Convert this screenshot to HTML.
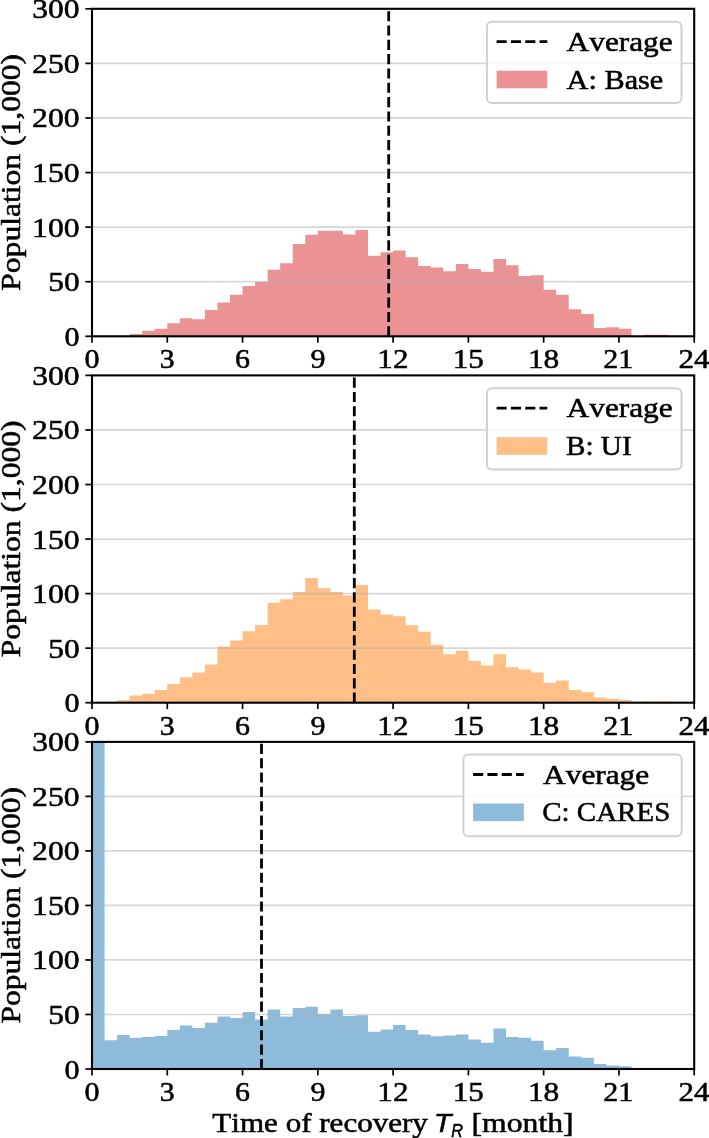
<!DOCTYPE html>
<html><head><meta charset="utf-8"><style>
html,body{margin:0;padding:0;background:#fff;}
svg{display:block;}
text{font-kerning:none;font-variant-ligatures:none;fill:#000;stroke:#000;stroke-width:0.55px;}
</style></head><body>
<svg width="709" height="1138" viewBox="0 0 709 1138">
<rect width="709" height="1138" fill="#fff"/>
<path d="M92.00,336.30 L92.00,336.30 L104.55,336.30 L104.55,336.30 L117.09,336.30 L117.09,336.30 L129.64,336.30 L129.64,334.12 L142.18,334.12 L142.18,330.84 L154.73,330.84 L154.73,328.66 L167.28,328.66 L167.28,323.20 L179.82,323.20 L179.82,318.29 L192.37,318.29 L192.37,319.16 L204.91,319.16 L204.91,310.10 L217.46,310.10 L217.46,302.46 L230.00,302.46 L230.00,294.82 L242.55,294.82 L242.55,286.08 L255.10,286.08 L255.10,281.72 L267.64,281.72 L267.64,269.71 L280.19,269.71 L280.19,263.16 L292.73,263.16 L292.73,243.95 L305.28,243.95 L305.28,234.78 L317.83,234.78 L317.83,230.85 L330.37,230.85 L330.37,230.85 L342.92,230.85 L342.92,234.56 L355.46,234.56 L355.46,229.97 L368.01,229.97 L368.01,255.74 L380.55,255.74 L380.55,252.24 L393.10,252.24 L393.10,250.50 L405.65,250.50 L405.65,257.37 L418.19,257.37 L418.19,265.89 L430.74,265.89 L430.74,267.42 L443.28,267.42 L443.28,271.24 L455.83,271.24 L455.83,264.03 L468.38,264.03 L468.38,268.94 L480.92,268.94 L480.92,271.78 L493.47,271.78 L493.47,258.90 L506.01,258.90 L506.01,265.34 L518.56,265.34 L518.56,275.93 L531.10,275.93 L531.10,275.28 L543.65,275.28 L543.65,289.80 L556.20,289.80 L556.20,294.71 L568.74,294.71 L568.74,309.34 L581.29,309.34 L581.29,314.03 L593.83,314.03 L593.83,327.89 L606.38,327.89 L606.38,327.13 L618.93,327.13 L618.93,328.66 L631.47,328.66 L631.47,335.97 L644.02,335.97 L644.02,334.66 L656.56,334.66 L656.56,334.66 L669.11,334.66 L669.11,336.30 L681.65,336.30 L681.65,336.30 L694.20,336.30 L694.20,336.30 Z" fill="rgb(235,147,148)"/>
<line x1="92.0" x2="694.2" y1="281.72" y2="281.72" stroke="#b0b0b0" stroke-opacity="0.5" stroke-width="1.7"/>
<line x1="92.0" x2="694.2" y1="227.13" y2="227.13" stroke="#b0b0b0" stroke-opacity="0.5" stroke-width="1.7"/>
<line x1="92.0" x2="694.2" y1="172.55" y2="172.55" stroke="#b0b0b0" stroke-opacity="0.5" stroke-width="1.7"/>
<line x1="92.0" x2="694.2" y1="117.97" y2="117.97" stroke="#b0b0b0" stroke-opacity="0.5" stroke-width="1.7"/>
<line x1="92.0" x2="694.2" y1="63.38" y2="63.38" stroke="#b0b0b0" stroke-opacity="0.5" stroke-width="1.7"/>
<line x1="388.7" x2="388.7" y1="336.3" y2="8.8" stroke="#000" stroke-width="2.8" stroke-dasharray="10.1 4.22"/>
<rect x="92.0" y="8.8" width="602.20" height="327.50" fill="none" stroke="#000" stroke-width="2.1"/>
<line x1="85.3" x2="92.0" y1="336.30" y2="336.30" stroke="#000" stroke-width="1.7"/>
<line x1="85.3" x2="92.0" y1="281.72" y2="281.72" stroke="#000" stroke-width="1.7"/>
<line x1="85.3" x2="92.0" y1="227.13" y2="227.13" stroke="#000" stroke-width="1.7"/>
<line x1="85.3" x2="92.0" y1="172.55" y2="172.55" stroke="#000" stroke-width="1.7"/>
<line x1="85.3" x2="92.0" y1="117.97" y2="117.97" stroke="#000" stroke-width="1.7"/>
<line x1="85.3" x2="92.0" y1="63.38" y2="63.38" stroke="#000" stroke-width="1.7"/>
<line x1="85.3" x2="92.0" y1="8.80" y2="8.80" stroke="#000" stroke-width="1.7"/>
<line x1="92.00" x2="92.00" y1="336.3" y2="342.70" stroke="#000" stroke-width="1.7"/>
<line x1="167.28" x2="167.28" y1="336.3" y2="342.70" stroke="#000" stroke-width="1.7"/>
<line x1="242.55" x2="242.55" y1="336.3" y2="342.70" stroke="#000" stroke-width="1.7"/>
<line x1="317.83" x2="317.83" y1="336.3" y2="342.70" stroke="#000" stroke-width="1.7"/>
<line x1="393.10" x2="393.10" y1="336.3" y2="342.70" stroke="#000" stroke-width="1.7"/>
<line x1="468.38" x2="468.38" y1="336.3" y2="342.70" stroke="#000" stroke-width="1.7"/>
<line x1="543.65" x2="543.65" y1="336.3" y2="342.70" stroke="#000" stroke-width="1.7"/>
<line x1="618.93" x2="618.93" y1="336.3" y2="342.70" stroke="#000" stroke-width="1.7"/>
<line x1="694.20" x2="694.20" y1="336.3" y2="342.70" stroke="#000" stroke-width="1.7"/>
<rect x="486.9" y="21.7" width="194.60" height="81.30" rx="5" ry="5" fill="#fff" fill-opacity="0.8" stroke="#d0d0d0" stroke-width="2"/>
<line x1="496.60" x2="547.30" y1="41.70" y2="41.70" stroke="#000" stroke-width="2.8" stroke-dasharray="10.1 4.22"/>
<rect x="496.60" y="70.70" width="50.7" height="17.6" fill="rgb(235,147,148)"/>
<path d="M92.00,702.70 L92.00,702.70 L104.55,702.70 L104.55,702.70 L117.09,702.70 L117.09,700.19 L129.64,700.19 L129.64,695.61 L142.18,695.61 L142.18,693.86 L154.73,693.86 L154.73,690.04 L167.28,690.04 L167.28,683.93 L179.82,683.93 L179.82,677.17 L192.37,677.17 L192.37,672.48 L204.91,672.48 L204.91,664.51 L217.46,664.51 L217.46,646.62 L230.00,646.62 L230.00,640.51 L242.55,640.51 L242.55,631.24 L255.10,631.24 L255.10,624.91 L267.64,624.91 L267.64,602.87 L280.19,602.87 L280.19,599.27 L292.73,599.27 L292.73,592.07 L305.28,592.07 L305.28,577.89 L317.83,577.89 L317.83,588.25 L330.37,588.25 L330.37,592.07 L342.92,592.07 L342.92,595.45 L355.46,595.45 L355.46,585.09 L368.01,585.09 L368.01,609.42 L380.55,609.42 L380.55,614.55 L393.10,614.55 L393.10,616.18 L405.65,616.18 L405.65,625.13 L418.19,625.13 L418.19,631.79 L430.74,631.79 L430.74,644.77 L443.28,644.77 L443.28,654.37 L455.83,654.37 L455.83,650.77 L468.38,650.77 L468.38,660.70 L480.92,660.70 L480.92,665.39 L493.47,665.39 L493.47,654.37 L506.01,654.37 L506.01,667.24 L518.56,667.24 L518.56,669.53 L531.10,669.53 L531.10,672.59 L543.65,672.59 L543.65,682.84 L556.20,682.84 L556.20,680.55 L568.74,680.55 L568.74,689.94 L581.29,689.94 L581.29,692.23 L593.83,692.23 L593.83,697.46 L606.38,697.46 L606.38,698.77 L618.93,698.77 L618.93,699.65 L631.47,699.65 L631.47,702.70 L644.02,702.70 L644.02,701.61 L656.56,701.61 L656.56,701.61 L669.11,701.61 L669.11,702.70 L681.65,702.70 L681.65,702.70 L694.20,702.70 L694.20,702.70 Z" fill="rgb(255,191,135)"/>
<line x1="92.0" x2="694.2" y1="648.15" y2="648.15" stroke="#b0b0b0" stroke-opacity="0.5" stroke-width="1.7"/>
<line x1="92.0" x2="694.2" y1="593.60" y2="593.60" stroke="#b0b0b0" stroke-opacity="0.5" stroke-width="1.7"/>
<line x1="92.0" x2="694.2" y1="539.05" y2="539.05" stroke="#b0b0b0" stroke-opacity="0.5" stroke-width="1.7"/>
<line x1="92.0" x2="694.2" y1="484.50" y2="484.50" stroke="#b0b0b0" stroke-opacity="0.5" stroke-width="1.7"/>
<line x1="92.0" x2="694.2" y1="429.95" y2="429.95" stroke="#b0b0b0" stroke-opacity="0.5" stroke-width="1.7"/>
<line x1="354.3" x2="354.3" y1="702.7" y2="375.4" stroke="#000" stroke-width="2.8" stroke-dasharray="10.1 4.22"/>
<rect x="92.0" y="375.4" width="602.20" height="327.30" fill="none" stroke="#000" stroke-width="2.1"/>
<line x1="85.3" x2="92.0" y1="702.70" y2="702.70" stroke="#000" stroke-width="1.7"/>
<line x1="85.3" x2="92.0" y1="648.15" y2="648.15" stroke="#000" stroke-width="1.7"/>
<line x1="85.3" x2="92.0" y1="593.60" y2="593.60" stroke="#000" stroke-width="1.7"/>
<line x1="85.3" x2="92.0" y1="539.05" y2="539.05" stroke="#000" stroke-width="1.7"/>
<line x1="85.3" x2="92.0" y1="484.50" y2="484.50" stroke="#000" stroke-width="1.7"/>
<line x1="85.3" x2="92.0" y1="429.95" y2="429.95" stroke="#000" stroke-width="1.7"/>
<line x1="85.3" x2="92.0" y1="375.40" y2="375.40" stroke="#000" stroke-width="1.7"/>
<line x1="92.00" x2="92.00" y1="702.7" y2="709.10" stroke="#000" stroke-width="1.7"/>
<line x1="167.28" x2="167.28" y1="702.7" y2="709.10" stroke="#000" stroke-width="1.7"/>
<line x1="242.55" x2="242.55" y1="702.7" y2="709.10" stroke="#000" stroke-width="1.7"/>
<line x1="317.83" x2="317.83" y1="702.7" y2="709.10" stroke="#000" stroke-width="1.7"/>
<line x1="393.10" x2="393.10" y1="702.7" y2="709.10" stroke="#000" stroke-width="1.7"/>
<line x1="468.38" x2="468.38" y1="702.7" y2="709.10" stroke="#000" stroke-width="1.7"/>
<line x1="543.65" x2="543.65" y1="702.7" y2="709.10" stroke="#000" stroke-width="1.7"/>
<line x1="618.93" x2="618.93" y1="702.7" y2="709.10" stroke="#000" stroke-width="1.7"/>
<line x1="694.20" x2="694.20" y1="702.7" y2="709.10" stroke="#000" stroke-width="1.7"/>
<rect x="486.9" y="388.2" width="194.60" height="81.30" rx="5" ry="5" fill="#fff" fill-opacity="0.8" stroke="#d0d0d0" stroke-width="2"/>
<line x1="496.60" x2="547.30" y1="408.20" y2="408.20" stroke="#000" stroke-width="2.8" stroke-dasharray="10.1 4.22"/>
<rect x="496.60" y="437.20" width="50.7" height="17.6" fill="rgb(255,191,135)"/>
<path d="M92.00,1069.00 L92.00,741.35 L104.55,741.35 L104.55,1040.22 L117.09,1040.22 L117.09,1035.09 L129.64,1035.09 L129.64,1037.71 L142.18,1037.71 L142.18,1037.05 L154.73,1037.05 L154.73,1035.96 L167.28,1035.96 L167.28,1029.97 L179.82,1029.97 L179.82,1025.60 L192.37,1025.60 L192.37,1027.89 L204.91,1027.89 L204.91,1022.77 L217.46,1022.77 L217.46,1016.45 L230.00,1016.45 L230.00,1017.97 L242.55,1017.97 L242.55,1012.08 L255.10,1012.08 L255.10,1019.50 L267.64,1019.50 L267.64,1009.47 L280.19,1009.47 L280.19,1016.45 L292.73,1016.45 L292.73,1007.94 L305.28,1007.94 L305.28,1006.63 L317.83,1006.63 L317.83,1013.94 L330.37,1013.94 L330.37,1009.47 L342.92,1009.47 L342.92,1016.12 L355.46,1016.12 L355.46,1015.14 L368.01,1015.14 L368.01,1031.71 L380.55,1031.71 L380.55,1029.53 L393.10,1029.53 L393.10,1024.95 L405.65,1024.95 L405.65,1029.97 L418.19,1029.97 L418.19,1034.44 L430.74,1034.44 L430.74,1036.18 L443.28,1036.18 L443.28,1035.53 L455.83,1035.53 L455.83,1034.44 L468.38,1034.44 L468.38,1039.56 L480.92,1039.56 L480.92,1042.72 L493.47,1042.72 L493.47,1028.55 L506.01,1028.55 L506.01,1037.05 L518.56,1037.05 L518.56,1037.71 L531.10,1037.71 L531.10,1040.65 L543.65,1040.65 L543.65,1050.25 L556.20,1050.25 L556.20,1047.96 L568.74,1047.96 L568.74,1056.46 L581.29,1056.46 L581.29,1057.77 L593.83,1057.77 L593.83,1063.88 L606.38,1063.88 L606.38,1065.40 L618.93,1065.40 L618.93,1066.27 L631.47,1066.27 L631.47,1069.00 L644.02,1069.00 L644.02,1069.00 L656.56,1069.00 L656.56,1069.00 L669.11,1069.00 L669.11,1069.00 L681.65,1069.00 L681.65,1069.00 L694.20,1069.00 L694.20,1069.00 Z" fill="rgb(143,187,218)"/>
<line x1="92.0" x2="694.2" y1="1014.48" y2="1014.48" stroke="#b0b0b0" stroke-opacity="0.5" stroke-width="1.7"/>
<line x1="92.0" x2="694.2" y1="959.97" y2="959.97" stroke="#b0b0b0" stroke-opacity="0.5" stroke-width="1.7"/>
<line x1="92.0" x2="694.2" y1="905.45" y2="905.45" stroke="#b0b0b0" stroke-opacity="0.5" stroke-width="1.7"/>
<line x1="92.0" x2="694.2" y1="850.93" y2="850.93" stroke="#b0b0b0" stroke-opacity="0.5" stroke-width="1.7"/>
<line x1="92.0" x2="694.2" y1="796.42" y2="796.42" stroke="#b0b0b0" stroke-opacity="0.5" stroke-width="1.7"/>
<line x1="261.5" x2="261.5" y1="1069.0" y2="741.9" stroke="#000" stroke-width="2.8" stroke-dasharray="10.1 4.22"/>
<rect x="92.0" y="741.9" width="602.20" height="327.10" fill="none" stroke="#000" stroke-width="2.1"/>
<line x1="85.3" x2="92.0" y1="1069.00" y2="1069.00" stroke="#000" stroke-width="1.7"/>
<line x1="85.3" x2="92.0" y1="1014.48" y2="1014.48" stroke="#000" stroke-width="1.7"/>
<line x1="85.3" x2="92.0" y1="959.97" y2="959.97" stroke="#000" stroke-width="1.7"/>
<line x1="85.3" x2="92.0" y1="905.45" y2="905.45" stroke="#000" stroke-width="1.7"/>
<line x1="85.3" x2="92.0" y1="850.93" y2="850.93" stroke="#000" stroke-width="1.7"/>
<line x1="85.3" x2="92.0" y1="796.42" y2="796.42" stroke="#000" stroke-width="1.7"/>
<line x1="85.3" x2="92.0" y1="741.90" y2="741.90" stroke="#000" stroke-width="1.7"/>
<line x1="92.00" x2="92.00" y1="1069.0" y2="1075.40" stroke="#000" stroke-width="1.7"/>
<line x1="167.28" x2="167.28" y1="1069.0" y2="1075.40" stroke="#000" stroke-width="1.7"/>
<line x1="242.55" x2="242.55" y1="1069.0" y2="1075.40" stroke="#000" stroke-width="1.7"/>
<line x1="317.83" x2="317.83" y1="1069.0" y2="1075.40" stroke="#000" stroke-width="1.7"/>
<line x1="393.10" x2="393.10" y1="1069.0" y2="1075.40" stroke="#000" stroke-width="1.7"/>
<line x1="468.38" x2="468.38" y1="1069.0" y2="1075.40" stroke="#000" stroke-width="1.7"/>
<line x1="543.65" x2="543.65" y1="1069.0" y2="1075.40" stroke="#000" stroke-width="1.7"/>
<line x1="618.93" x2="618.93" y1="1069.0" y2="1075.40" stroke="#000" stroke-width="1.7"/>
<line x1="694.20" x2="694.20" y1="1069.0" y2="1075.40" stroke="#000" stroke-width="1.7"/>
<rect x="463.4" y="754.5" width="218.30" height="81.70" rx="5" ry="5" fill="#fff" fill-opacity="0.8" stroke="#d0d0d0" stroke-width="2"/>
<line x1="473.10" x2="523.80" y1="774.50" y2="774.50" stroke="#000" stroke-width="2.8" stroke-dasharray="10.1 4.22"/>
<rect x="473.10" y="803.50" width="50.7" height="17.6" fill="rgb(143,187,218)"/>
<g opacity="0.999">
<text transform="translate(64.51,345.80) scale(1.0667,1)" font-family="Liberation Serif" font-style="normal" font-size="28.2">0</text>
<text transform="translate(48.21,291.22) scale(1.1129,1)" font-family="Liberation Serif" font-style="normal" font-size="28.2">50</text>
<text transform="translate(32.09,236.63) scale(1.1232,1)" font-family="Liberation Serif" font-style="normal" font-size="28.2">100</text>
<text transform="translate(32.09,182.05) scale(1.1232,1)" font-family="Liberation Serif" font-style="normal" font-size="28.2">150</text>
<text transform="translate(32.12,127.47) scale(1.1227,1)" font-family="Liberation Serif" font-style="normal" font-size="28.2">200</text>
<text transform="translate(32.12,72.88) scale(1.1227,1)" font-family="Liberation Serif" font-style="normal" font-size="28.2">250</text>
<text transform="translate(32.21,18.30) scale(1.1205,1)" font-family="Liberation Serif" font-style="normal" font-size="28.2">300</text>
<text transform="translate(84.47,367.60) scale(1.0667,1)" font-family="Liberation Serif" font-style="normal" font-size="28.2">0</text>
<text transform="translate(159.73,367.60) scale(1.0552,1)" font-family="Liberation Serif" font-style="normal" font-size="28.2">3</text>
<text transform="translate(234.91,367.60) scale(1.0633,1)" font-family="Liberation Serif" font-style="normal" font-size="28.2">6</text>
<text transform="translate(310.40,367.60) scale(1.0635,1)" font-family="Liberation Serif" font-style="normal" font-size="28.2">9</text>
<text transform="translate(377.36,367.60) scale(1.1016,1)" font-family="Liberation Serif" font-style="normal" font-size="28.2">12</text>
<text transform="translate(452.63,367.60) scale(1.1029,1)" font-family="Liberation Serif" font-style="normal" font-size="28.2">15</text>
<text transform="translate(527.89,367.60) scale(1.1117,1)" font-family="Liberation Serif" font-style="normal" font-size="28.2">18</text>
<text transform="translate(603.23,367.60) scale(1.0639,1)" font-family="Liberation Serif" font-style="normal" font-size="28.2">21</text>
<text transform="translate(678.46,367.60) scale(1.1012,1)" font-family="Liberation Serif" font-style="normal" font-size="28.2">24</text>
<text transform="translate(19.6,172.55) rotate(-90) translate(-118.17,0) scale(1.1198,1)" font-family="Liberation Serif" font-size="28.2">Population (1,000)</text>
<text transform="translate(566.59,50.70) scale(1.1116,1)" font-family="Liberation Serif" font-style="normal" font-size="28.2">Average</text>
<text transform="translate(566.60,88.50) scale(1.0737,1)" font-family="Liberation Serif" font-style="normal" font-size="28.2">A: Base</text>
<text transform="translate(64.51,712.20) scale(1.0667,1)" font-family="Liberation Serif" font-style="normal" font-size="28.2">0</text>
<text transform="translate(48.21,657.65) scale(1.1129,1)" font-family="Liberation Serif" font-style="normal" font-size="28.2">50</text>
<text transform="translate(32.09,603.10) scale(1.1232,1)" font-family="Liberation Serif" font-style="normal" font-size="28.2">100</text>
<text transform="translate(32.09,548.55) scale(1.1232,1)" font-family="Liberation Serif" font-style="normal" font-size="28.2">150</text>
<text transform="translate(32.12,494.00) scale(1.1227,1)" font-family="Liberation Serif" font-style="normal" font-size="28.2">200</text>
<text transform="translate(32.12,439.45) scale(1.1227,1)" font-family="Liberation Serif" font-style="normal" font-size="28.2">250</text>
<text transform="translate(32.21,384.90) scale(1.1205,1)" font-family="Liberation Serif" font-style="normal" font-size="28.2">300</text>
<text transform="translate(84.47,734.60) scale(1.0667,1)" font-family="Liberation Serif" font-style="normal" font-size="28.2">0</text>
<text transform="translate(159.73,734.60) scale(1.0552,1)" font-family="Liberation Serif" font-style="normal" font-size="28.2">3</text>
<text transform="translate(234.91,734.60) scale(1.0633,1)" font-family="Liberation Serif" font-style="normal" font-size="28.2">6</text>
<text transform="translate(310.40,734.60) scale(1.0635,1)" font-family="Liberation Serif" font-style="normal" font-size="28.2">9</text>
<text transform="translate(377.36,734.60) scale(1.1016,1)" font-family="Liberation Serif" font-style="normal" font-size="28.2">12</text>
<text transform="translate(452.63,734.60) scale(1.1029,1)" font-family="Liberation Serif" font-style="normal" font-size="28.2">15</text>
<text transform="translate(527.89,734.60) scale(1.1117,1)" font-family="Liberation Serif" font-style="normal" font-size="28.2">18</text>
<text transform="translate(603.23,734.60) scale(1.0639,1)" font-family="Liberation Serif" font-style="normal" font-size="28.2">21</text>
<text transform="translate(678.46,734.60) scale(1.1012,1)" font-family="Liberation Serif" font-style="normal" font-size="28.2">24</text>
<text transform="translate(19.6,539.05) rotate(-90) translate(-118.17,0) scale(1.1198,1)" font-family="Liberation Serif" font-size="28.2">Population (1,000)</text>
<text transform="translate(566.59,417.20) scale(1.1116,1)" font-family="Liberation Serif" font-style="normal" font-size="28.2">Average</text>
<text transform="translate(566.06,455.00) scale(1.0330,1)" font-family="Liberation Serif" font-style="normal" font-size="28.2">B: UI</text>
<text transform="translate(64.51,1078.50) scale(1.0667,1)" font-family="Liberation Serif" font-style="normal" font-size="28.2">0</text>
<text transform="translate(48.21,1023.98) scale(1.1129,1)" font-family="Liberation Serif" font-style="normal" font-size="28.2">50</text>
<text transform="translate(32.09,969.47) scale(1.1232,1)" font-family="Liberation Serif" font-style="normal" font-size="28.2">100</text>
<text transform="translate(32.09,914.95) scale(1.1232,1)" font-family="Liberation Serif" font-style="normal" font-size="28.2">150</text>
<text transform="translate(32.12,860.43) scale(1.1227,1)" font-family="Liberation Serif" font-style="normal" font-size="28.2">200</text>
<text transform="translate(32.12,805.92) scale(1.1227,1)" font-family="Liberation Serif" font-style="normal" font-size="28.2">250</text>
<text transform="translate(32.21,751.40) scale(1.1205,1)" font-family="Liberation Serif" font-style="normal" font-size="28.2">300</text>
<text transform="translate(84.47,1100.70) scale(1.0667,1)" font-family="Liberation Serif" font-style="normal" font-size="28.2">0</text>
<text transform="translate(159.73,1100.70) scale(1.0552,1)" font-family="Liberation Serif" font-style="normal" font-size="28.2">3</text>
<text transform="translate(234.91,1100.70) scale(1.0633,1)" font-family="Liberation Serif" font-style="normal" font-size="28.2">6</text>
<text transform="translate(310.40,1100.70) scale(1.0635,1)" font-family="Liberation Serif" font-style="normal" font-size="28.2">9</text>
<text transform="translate(377.36,1100.70) scale(1.1016,1)" font-family="Liberation Serif" font-style="normal" font-size="28.2">12</text>
<text transform="translate(452.63,1100.70) scale(1.1029,1)" font-family="Liberation Serif" font-style="normal" font-size="28.2">15</text>
<text transform="translate(527.89,1100.70) scale(1.1117,1)" font-family="Liberation Serif" font-style="normal" font-size="28.2">18</text>
<text transform="translate(603.23,1100.70) scale(1.0639,1)" font-family="Liberation Serif" font-style="normal" font-size="28.2">21</text>
<text transform="translate(678.46,1100.70) scale(1.1012,1)" font-family="Liberation Serif" font-style="normal" font-size="28.2">24</text>
<text transform="translate(19.6,905.45) rotate(-90) translate(-118.17,0) scale(1.1198,1)" font-family="Liberation Serif" font-size="28.2">Population (1,000)</text>
<text transform="translate(543.09,783.50) scale(1.1116,1)" font-family="Liberation Serif" font-style="normal" font-size="28.2">Average</text>
<text transform="translate(542.21,821.30) scale(1.0283,1)" font-family="Liberation Serif" font-style="normal" font-size="28.2">C: CARES</text>
<text transform="translate(212.34,1131.90) scale(1.1014,1)" font-family="Liberation Serif" font-style="normal" font-size="28.2">Time of recovery</text>
<text transform="translate(471.55,1131.90) scale(1.1235,1)" font-family="Liberation Serif" font-style="normal" font-size="28.2">[month]</text>
<text transform="translate(434.03,1131.80) scale(1.1315,1)" font-family="Liberation Sans" font-style="italic" font-size="25.29">T</text>
<text transform="translate(451.20,1136.60) scale(0.8787,1)" font-family="Liberation Sans" font-style="italic" font-size="18.60">R</text>
</g>
</svg>
</body></html>
